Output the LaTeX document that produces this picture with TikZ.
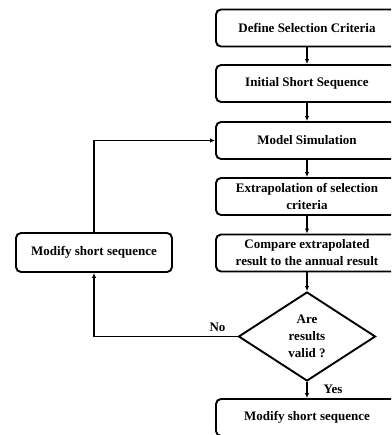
\documentclass[tikz,border=0pt]{standalone}
\usepackage{fontspec}
\setmainfont{Liberation Serif}
\usetikzlibrary{shapes.geometric,arrows.meta}
\begin{document}
\begin{tikzpicture}[x=1pt,y=1pt,
  every node/.style={font=\bfseries\fontsize{13}{17}\selectfont, align=center},
  box/.style={draw, line width=1.9pt, rounded corners=5pt, minimum width=182pt, minimum height=37pt, inner sep=1pt},
  lbox/.style={draw, line width=1.9pt, rounded corners=5pt, minimum width=156pt, minimum height=39pt, inner sep=1pt},
  dec/.style={draw, diamond, line width=1.9pt, minimum width=137pt, minimum height=89pt, inner sep=0pt, aspect=1.54},
  arr/.style={line width=1.5pt, -{Latex[length=5pt,width=4.5pt]}},
  lab/.style={font=\bfseries\fontsize{13}{15}\selectfont}
]
\useasboundingbox (0,0) rectangle (391,435);
\clip (0,0) rectangle (391,435);
\node[box] (b1) at (307,407) {Define Selection Criteria};
\node[box] (b2) at (307,351.5) {Initial Short Sequence};
\node[box] (b3) at (307,294.5) {Model Simulation};
\node[box] (b4) at (307,238.5) {Extrapolation of selection\\criteria};
\node[box] (b5) at (307,182) {Compare extrapolated\\result to the annual result};
\node[dec] (d) at (307,98.5) {Are\\results\\valid ?};
\node[box] (b6) at (307,17.5) {Modify short sequence};
\node[lbox] (l) at (94,182.5) {Modify short sequence};
\node[lab] (yes) at ([xshift=26pt,yshift=-7pt]d.south) {Yes};
\node[lab] (no) at ([xshift=-20pt,yshift=9.5pt]d.west) {No};
\draw[arr] (b1) -- (b2);
\draw[arr] (b2) -- (b3);
\draw[arr] (b3) -- (b4);
\draw[arr] (b4) -- (b5);
\draw[arr] (b5) -- (d);
\draw[arr] (d) -- (b6);
\draw[arr] (d.west) -| (l.south);
\draw[arr] (l.north) |- (b3.west);
\end{tikzpicture}
\end{document}
